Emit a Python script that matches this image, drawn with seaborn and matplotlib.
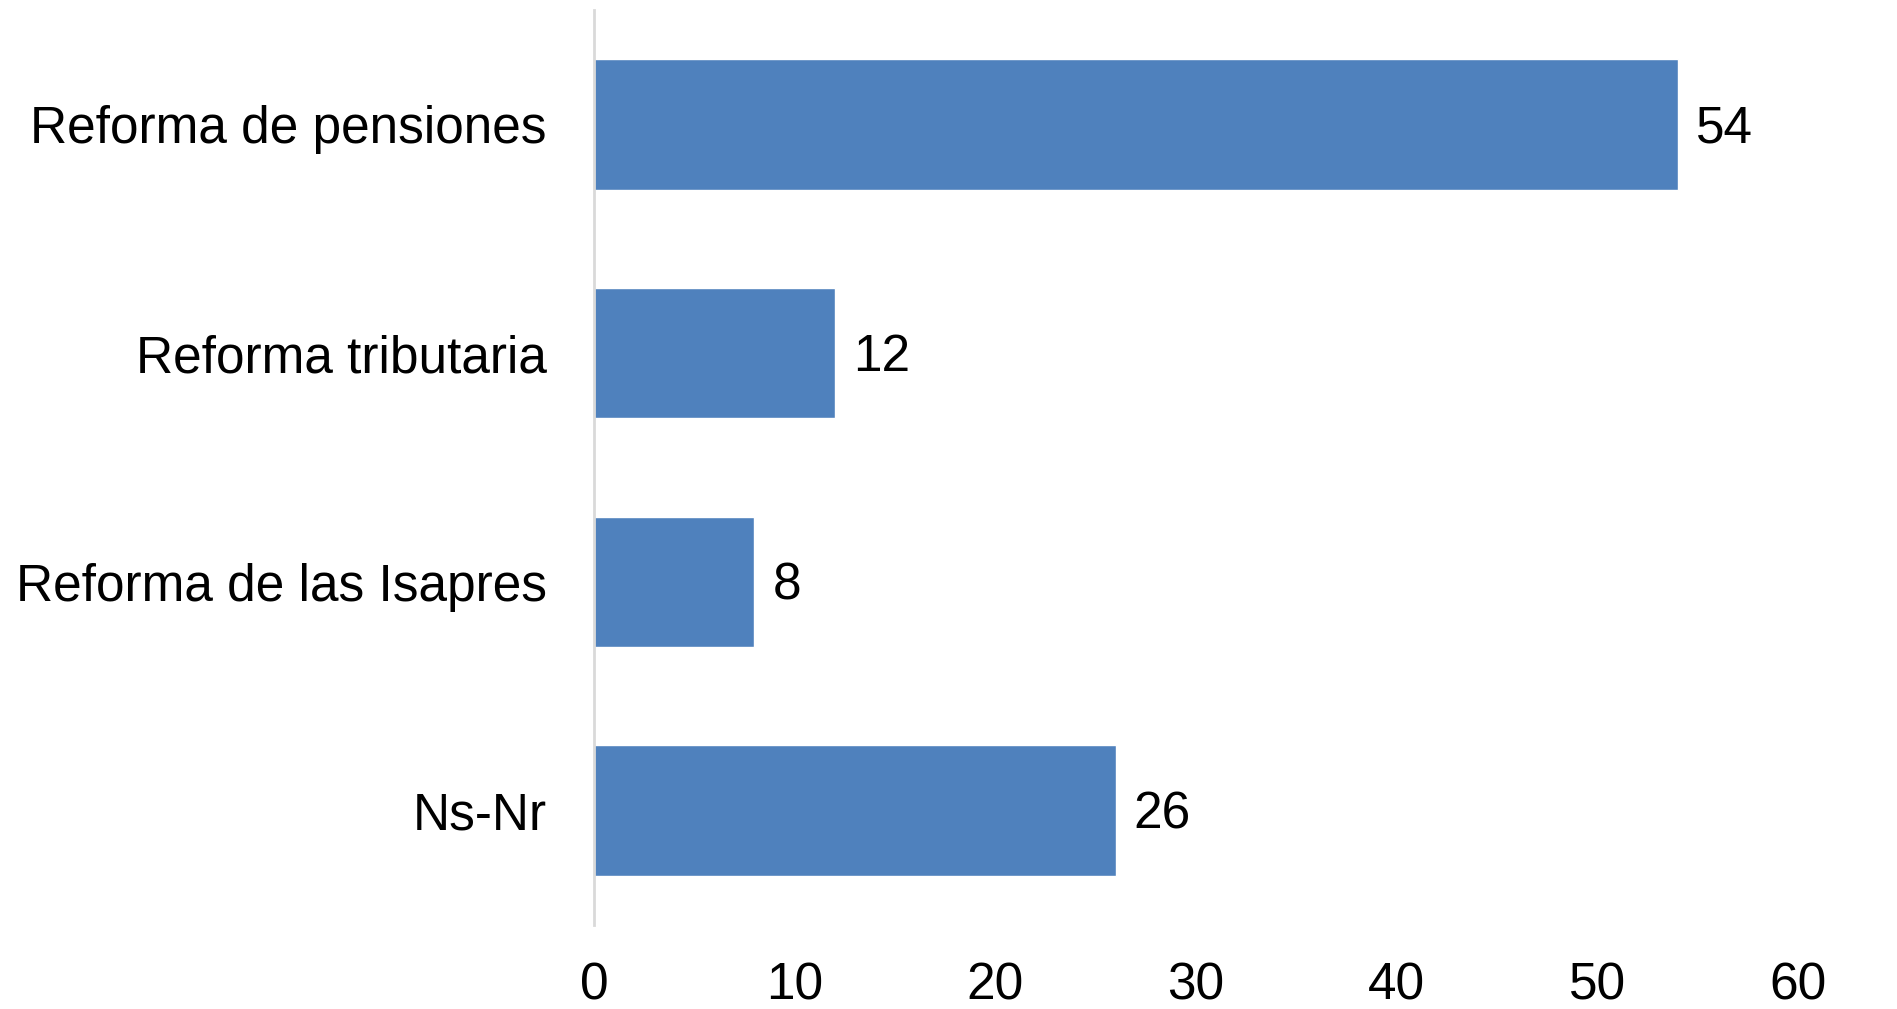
import matplotlib
matplotlib.use("Agg")
import matplotlib.pyplot as plt
import seaborn as sns
import pandas as pd

# Datos
categorias = ["Reforma de pensiones", "Reforma tributaria", "Reforma de las Isapres", "Ns-Nr"]
valores = [54, 12, 8, 26]
ticks_x = [0, 10, 20, 30, 40, 50, 60]

df = pd.DataFrame({"categoria": categorias, "valor": valores})

sns.set_style("white")
plt.rcParams["font.family"] = ["Liberation Sans", "DejaVu Sans"]

fig = plt.figure(figsize=(18.97, 10.09), dpi=100)
ax = fig.add_axes([0.3131, 0.0833, 0.6347, 0.9068])

sns.barplot(data=df, x="valor", y="categoria", color="#4F81BD", saturation=1,
            width=0.57, ax=ax)

# Etiquetas de valores
for i, v in enumerate(valores):
    ax.annotate(str(v), (v, i), xytext=(13, -3), textcoords="offset points",
                ha="left", va="center", fontsize=37, color="black")

ax.set_xlim(0, 60)
ax.set_ylim(3.5, -0.5)
ax.set_xticks(ticks_x)
ax.set_xlabel("")
ax.set_ylabel("")
ax.tick_params(axis="x", length=0, pad=26, labelsize=37, labelcolor="black")
ax.tick_params(axis="y", length=0, pad=34, labelsize=37, labelcolor="black")

for s in ["top", "right", "bottom"]:
    ax.spines[s].set_visible(False)
ax.spines["left"].set_color("#D9D9D9")
ax.spines["left"].set_linewidth(2)

fig.savefig("out.png", dpi=100)
